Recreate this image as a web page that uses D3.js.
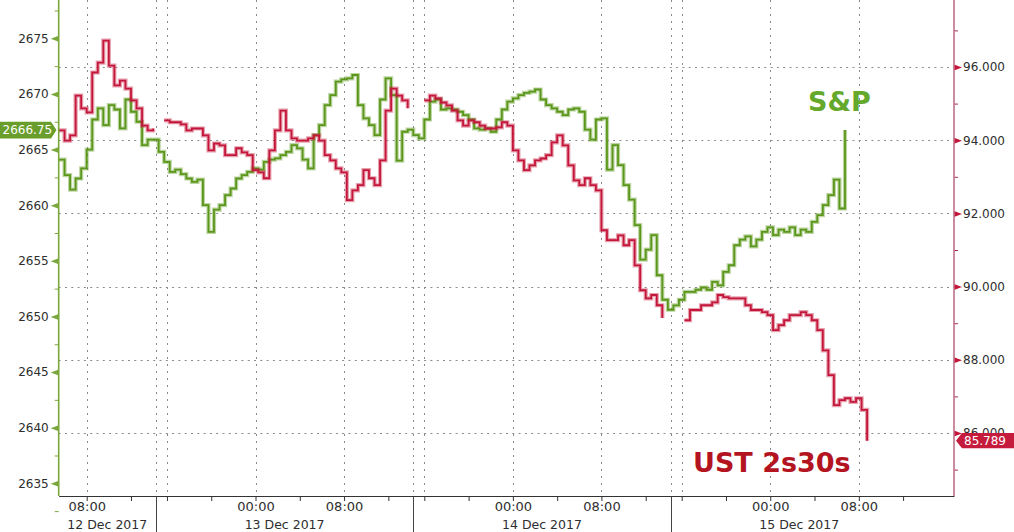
<!DOCTYPE html>
<html><head><meta charset="utf-8">
<script src="https://cdn.jsdelivr.net/npm/d3@7"></script>
<style>
html,body{margin:0;padding:0;background:#fff;}
svg{display:block;}
text{font-family:"DejaVu Sans",sans-serif;}
</style></head><body>
<svg id="c" width="1014" height="532"></svg>
<script>
// ---- data ----
const SESSION_HOURS = 23.25;          // trading hours per session (16:00 -> 15:15)
const dataStart = 13.5;               // session-hour of first sample
const dataStep = 0.5;                 // hours between samples
const dayLabels = ["12 Dec 2017", "13 Dec 2017", "14 Dec 2017", "15 Dec 2017"];
const clockTicks = [16, 20, 0, 4, 8, 12];
const clockLabelText = {0: "00:00", 8: "08:00"};
const spxTicks = [2635, 2640, 2645, 2650, 2655, 2660, 2665, 2670, 2675];
const spxMinorTicks = [2632.5, 2637.5, 2642.5, 2647.5, 2652.5, 2657.5, 2662.5, 2667.5, 2672.5, 2677.5];
const ustTicks = [86, 88, 90, 92, 94, 96, 98];
const ustMinorTicks = [85, 87, 89, 91, 93, 95, 97];
const spxLast = 2666.75;
const ustLast = 85.789;
const seriesNames = ["S&P", "UST 2s30s"];

const spxValues = [
  2664.1, 2662.7, 2661.4, 2662.4, 2663.3, 2665.0, 2667.7, 2668.7, 2667.2, 2669.0,
  2668.6, 2666.9, 2669.5, 2668.4, 2667.5, 2665.4, 2665.9, 2665.9, 2664.8, 2663.9,
  2663.0, 2663.2, 2662.8, 2662.4, 2662.1, 2662.3, 2660.0, 2657.6, 2659.6, 2660.0,
  2660.9, 2661.5, 2662.4, 2662.7, 2663.0, 2663.3, 2663.2, 2663.9, 2664.1, 2664.2,
  2664.5, 2664.8, 2665.4, 2665.1, 2664.1, 2663.3, 2666.3, 2667.2, 2669.0, 2669.9,
  2671.1, 2671.3, 2671.4, 2671.7, 2669.0, 2667.8, 2667.2, 2666.3, 2669.5, 2671.4,
  2669.9, 2664.0, 2666.6, 2666.8, 2666.3, 2666.0, 2667.7, 2669.3, 2669.5, 2668.6,
  2668.7, 2668.6, 2668.4, 2668.1, 2667.7, 2666.9, 2666.8, 2666.9, 2666.6, 2667.7,
  2668.6, 2669.3, 2669.6, 2669.9, 2670.1, 2670.2, 2670.4, 2669.5, 2669.0, 2668.7,
  2668.4, 2668.1, 2668.6, 2668.7, 2668.4, 2666.8, 2665.9, 2667.7, 2667.8, 2663.2,
  2665.4, 2663.6, 2661.8, 2660.5, 2658.2, 2655.1, 2656.0, 2657.3, 2653.7, 2651.5,
  2650.6, 2651.0, 2651.5, 2652.2, 2652.2, 2652.4, 2652.6, 2652.4, 2653.1, 2652.8,
  2654.0, 2654.6, 2656.4, 2656.9, 2657.2, 2656.3, 2656.9, 2657.6, 2658.0, 2657.3,
  2657.8, 2657.6, 2658.0, 2657.3, 2657.8, 2657.6, 2658.5, 2659.1, 2660.0, 2660.9,
  2662.3, 2659.7, 2666.75
];

const ustValues = [
  94.27, 93.99, 94.13, 95.22, 94.87, 94.76, 95.85, 96.12, 96.72, 96.04,
  95.50, 95.63, 95.41, 95.09, 94.87, 94.40, 94.27, 94.32, null, 94.54,
  94.49, 94.49, 94.43, 94.27, 94.32, 94.32, 94.13, 93.72, 93.91, 93.86,
  93.59, 93.59, 93.78, 93.67, 93.59, 93.18, 93.12, 92.96, 93.72, 94.27,
  94.81, 94.27, 94.05, 93.99, 93.99, 94.05, 94.13, 93.99, 93.59, 93.45,
  93.23, 93.12, 92.36, 92.63, 92.77, 93.18, 92.96, 92.77, 93.45, 94.81,
  95.41, 95.22, 95.09, 94.87, null, null, 95.09, 95.22, 95.14, 95.03,
  94.95, 94.81, 94.54, 94.40, 94.54, 94.49, 94.40, 94.32, 94.32, 94.35,
  94.49, 94.40, 93.72, 93.45, 93.18, 93.31, 93.45, 93.50, 93.59, 93.94,
  94.13, 93.86, 93.31, 92.90, 92.77, 92.96, 92.77, 92.63, 91.54, 91.27,
  91.27, 91.40, 91.13, 91.27, 90.58, 89.90, 89.68, 89.77, 89.49, 89.14,
  null, null, null, 89.08, 89.36, 89.36, 89.49, 89.49, 89.57, 89.77,
  89.71, 89.68, 89.68, 89.68, 89.49, 89.36, 89.36, 89.30, 89.22, 88.81,
  88.95, 89.08, 89.22, 89.22, 89.30, 89.22, 89.08, 88.81, 88.26, 87.58,
  86.76, 86.90, 86.95, 86.85, 86.95, 86.63, 85.789
];

// ---- layout / style ----
const W = 1014, H = 532;
const plot = {left: 58.7, right: 954, top: 0, bottom: 496};
const col = {
  spx: "#5a9619", ust: "#c4163a", spxAxis: "#7aa83c", ustAxis: "#c07088",
  grid: "#8a8a8a", text: "#2e2e2e", spxLabel: "#64a82c", ustLabel: "#b3141f",
  spxBox: "#6a9e2c", ustBox: "#c51b3d"
};

const svg = d3.select("#c");
const x = d3.scaleLinear().domain([13.47, 94.35]).range([plot.left, plot.right]);
const yL = d3.scaleLinear().domain([2635, 2675]).range([483.3, 38.3]);
const yR = d3.scaleLinear().domain([86, 96]).range([433, 67]);

const sessT = (day, clock) => day * SESSION_HOURS + ((clock - 16 + 24) % 24);
const sepT = day => day * SESSION_HOURS - 1.0;
const [t0, t1] = x.domain();
const inDom = t => t >= t0 && t <= t1;

// tick times
const tickTimes = [];
const tickLabel = new Map();
dayLabels.forEach((_, d) => clockTicks.forEach(c => {
  const t = sessT(d, c);
  if (inDom(t)) { tickTimes.push(t); tickLabel.set(t, clockLabelText[c] || ""); }
}));
tickTimes.sort((a, b) => a - b);

// vertical grid times
const vGrid = [];
dayLabels.forEach((_, d) => {
  [sessT(d, 16), sessT(d, 0), sessT(d, 8), sepT(d)].forEach(t => { if (inDom(t)) vGrid.push(t); });
});
const seps = dayLabels.map((_, d) => sepT(d)).filter(inDom);

// ---- grid ----
const grid = svg.append("g");
grid.selectAll("line.h").data(ustTicks).join("line")
  .attr("x1", plot.left).attr("x2", plot.right)
  .attr("y1", d => Math.round(yR(d)) + 0.5).attr("y2", d => Math.round(yR(d)) + 0.5)
  .attr("stroke", col.grid).attr("stroke-width", 1).attr("stroke-dasharray", "2,4.3");
grid.selectAll("line.v").data(vGrid).join("line")
  .attr("x1", d => Math.round(x(d)) + 0.5).attr("x2", d => Math.round(x(d)) + 0.5)
  .attr("y1", plot.top).attr("y2", plot.bottom)
  .attr("stroke", col.grid).attr("stroke-width", 1).attr("stroke-dasharray", "2,5");

// day separators below axis
svg.append("g").selectAll("line").data(seps).join("line")
  .attr("x1", d => Math.round(x(d)) + 0.5).attr("x2", d => Math.round(x(d)) + 0.5)
  .attr("y1", plot.bottom).attr("y2", H)
  .attr("stroke", "#444").attr("stroke-width", 1);

// ---- series ----
svg.append("clipPath").attr("id", "clip").append("rect")
  .attr("x", plot.left).attr("y", plot.top)
  .attr("width", plot.right - plot.left).attr("height", plot.bottom - plot.top);

const toPts = vals => vals.map((v, i) => ({t: dataStart + i * dataStep, v}));
function drawSeries(vals, yScale, color) {
  const line = d3.line().defined(d => d.v != null)
    .x(d => x(d.t)).y(d => yScale(d.v)).curve(d3.curveStepAfter);
  const g = svg.append("g").attr("clip-path", "url(#clip)");
  g.append("path").attr("d", line(toPts(vals))).attr("fill", "none")
    .attr("stroke", color).attr("stroke-opacity", 0.4).attr("stroke-width", 4.2);
  g.append("path").attr("d", line(toPts(vals))).attr("fill", "none")
    .attr("stroke", color).attr("stroke-width", 1.8);
}
drawSeries(spxValues, yL, col.spx);
drawSeries(ustValues, yR, col.ust);

// ---- axes ----
// bottom
const xAxis = svg.append("g").attr("transform", `translate(0,${plot.bottom})`)
  .call(d3.axisBottom(x).tickValues(tickTimes).tickSize(5).tickSizeOuter(0).tickPadding(1)
    .tickFormat(t => tickLabel.get(t)));
xAxis.select(".domain").attr("stroke", "#333");
xAxis.selectAll(".tick line").attr("stroke", "#333");
xAxis.selectAll("text").attr("font-size", 13).attr("fill", col.text)
  .attr("font-family", "DejaVu Sans");

// day labels
svg.append("g").selectAll("text").data(dayLabels).join("text")
  .attr("x", (d, i) => {
    const a = Math.max(sepT(i), t0), b = Math.min(sepT(i + 1), t1);
    return x((a + b) / 2);
  })
  .attr("y", 529).attr("text-anchor", "middle")
  .attr("font-size", 12.5).attr("fill", col.text).text(d => d);

// left axis
const gL = svg.append("g").attr("transform", `translate(${plot.left},0)`);
gL.append("g").call(d3.axisLeft(yL).tickValues(spxMinorTicks).tickSize(4).tickFormat(""))
  .call(g => g.select(".domain").remove())
  .selectAll(".tick line").attr("stroke", col.spxAxis);
const gLm = gL.append("g").call(d3.axisLeft(yL).tickValues(spxTicks).tickSize(0).tickPadding(10)
  .tickFormat(d3.format("d")));
gLm.select(".domain").remove();
gLm.selectAll("text").attr("font-size", 12).attr("fill", col.text).attr("font-family", "DejaVu Sans");
gLm.selectAll(".tick").append("path").attr("d", "M0,-3L-8,0L0,3Z").attr("fill", col.spxAxis);
gL.append("line").attr("x1", 0).attr("x2", 0).attr("y1", plot.top).attr("y2", plot.bottom)
  .attr("stroke", col.spxAxis).attr("stroke-width", 1.6);

// right axis
const gR = svg.append("g").attr("transform", `translate(${plot.right},0)`);
gR.append("g").call(d3.axisRight(yR).tickValues(ustMinorTicks).tickSize(4).tickFormat(""))
  .call(g => g.select(".domain").remove())
  .selectAll(".tick line").attr("stroke", "#a03050");
const gRm = gR.append("g").call(d3.axisRight(yR).tickValues(ustTicks).tickSize(0).tickPadding(9)
  .tickFormat(d3.format(".3f")));
gRm.select(".domain").remove();
gRm.selectAll("text").attr("font-size", 12).attr("fill", col.text).attr("font-family", "DejaVu Sans");
gRm.selectAll(".tick").append("path").attr("d", "M0,-3L8,0L0,3Z").attr("fill", col.ust);
gR.append("line").attr("x1", 0).attr("x2", 0).attr("y1", plot.top).attr("y2", plot.bottom)
  .attr("stroke", col.ustAxis).attr("stroke-width", 1.6);

// ---- last-value boxes ----
const ys = yL(spxLast);
svg.append("path")
  .attr("d", `M0,${ys - 8.3}L51,${ys - 8.3}L56.5,${ys}L51,${ys + 8.3}L0,${ys + 8.3}Z`)
  .attr("fill", col.spxBox);
svg.append("text").attr("x", 2.5).attr("y", ys).attr("dy", "0.36em")
  .attr("font-size", 12).attr("fill", "#fff").text(d3.format(".2f")(spxLast));

const yu = yR(ustLast);
svg.append("path")
  .attr("d", `M956,${yu}L962,${yu - 7.6}L${W},${yu - 7.6}L${W},${yu + 7.6}L962,${yu + 7.6}Z`)
  .attr("fill", col.ustBox);
svg.append("text").attr("x", 964).attr("y", yu).attr("dy", "0.36em")
  .attr("font-size", 12).attr("fill", "#fff").text(d3.format(".3f")(ustLast));

// ---- series labels ----
svg.append("text").attr("x", 808).attr("y", 111)
  .attr("font-size", 27).attr("font-weight", "bold").attr("fill", col.spxLabel).text(seriesNames[0]);
svg.append("text").attr("x", 693).attr("y", 471.5)
  .attr("font-size", 27).attr("font-weight", "bold").attr("fill", col.ustLabel).text(seriesNames[1]);
</script>
</body></html>
